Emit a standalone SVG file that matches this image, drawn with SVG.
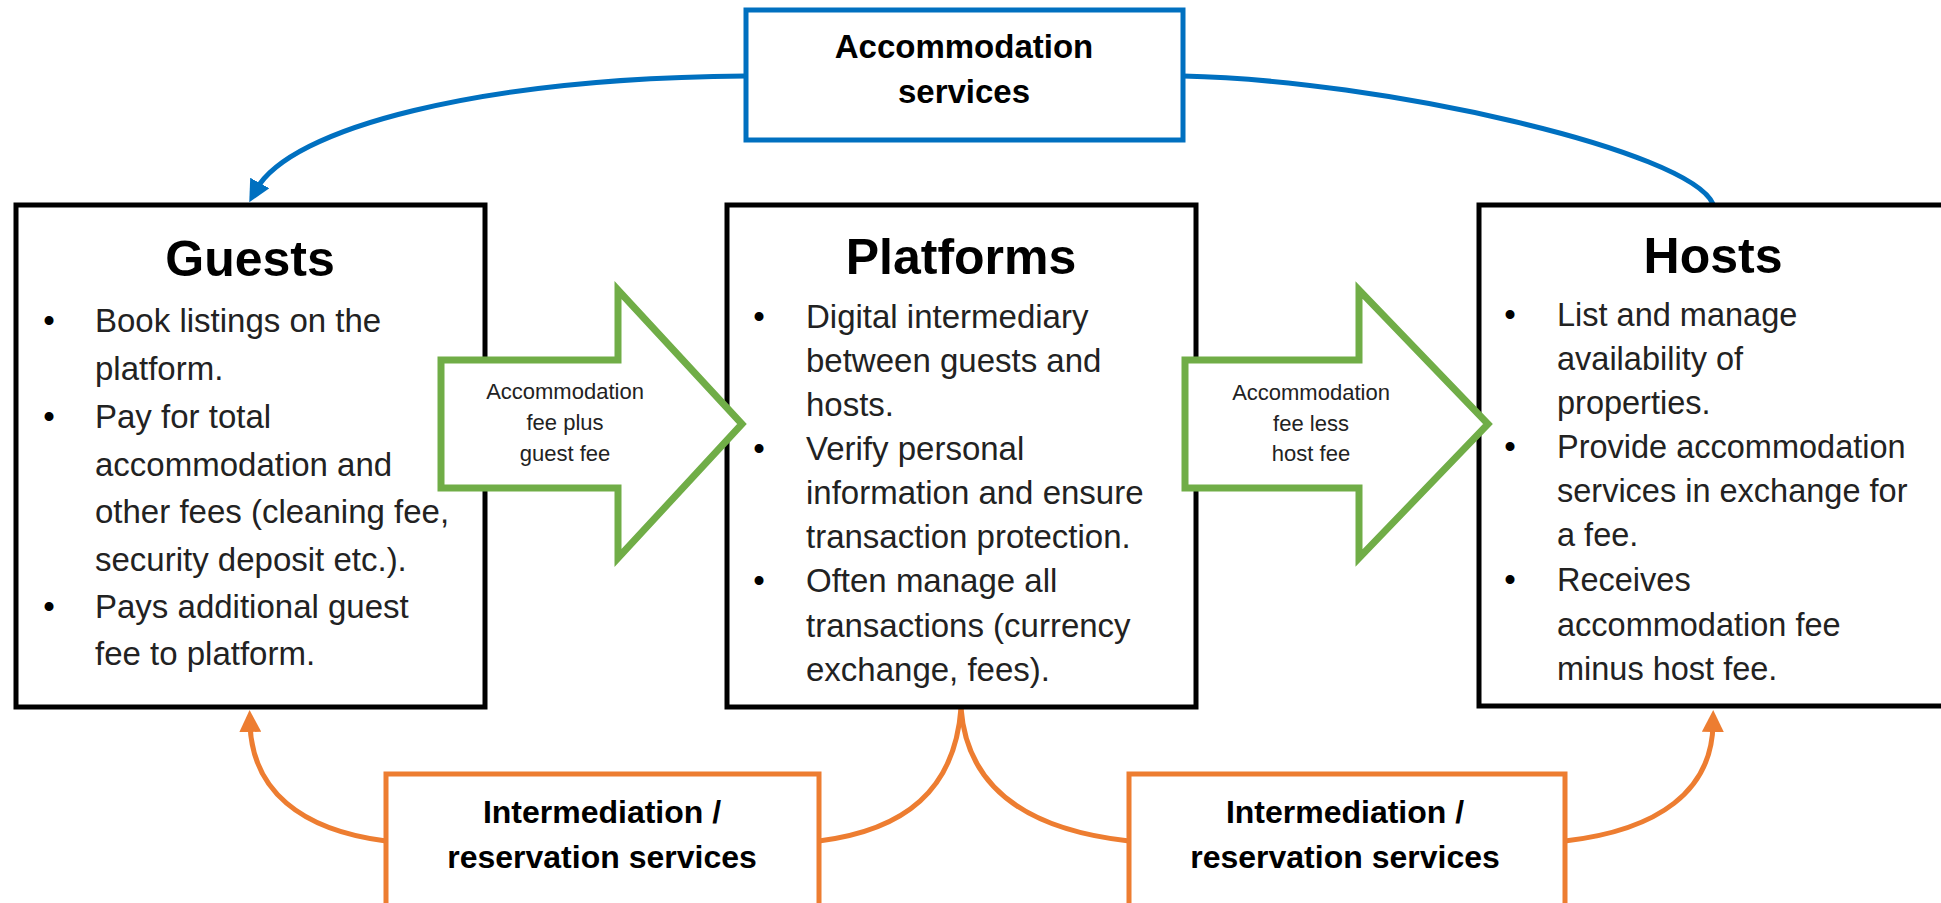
<svg xmlns="http://www.w3.org/2000/svg" width="1941" height="903" viewBox="0 0 1941 903">
<style>
.box{fill:#fff;stroke:#000;stroke-width:5}
.bbox{fill:#fff;stroke:#0070C0;stroke-width:5}
.obox{fill:#fff;stroke:#ED7D31;stroke-width:5}
.garrow{fill:#fff;stroke:#70AD47;stroke-width:7;stroke-linejoin:miter}
.title{font-family:"Liberation Sans",Arial,sans-serif;font-weight:bold;font-size:50px;fill:#000;text-anchor:middle}
.body{font-family:"Liberation Sans",Arial,sans-serif;font-size:33px;fill:#222}
.bul{font-family:"Liberation Sans",Arial,sans-serif;font-size:33px;fill:#000;text-anchor:middle}
.lbl{font-family:"Liberation Sans",Arial,sans-serif;font-weight:bold;font-size:32px;fill:#000;text-anchor:middle}
.small{font-family:"Liberation Sans",Arial,sans-serif;font-size:22px;fill:#222;text-anchor:middle}
.blue{fill:none;stroke:#0070C0;stroke-width:5}
.orange{fill:none;stroke:#ED7D31;stroke-width:5}
</style>
<defs>
<marker id="ab" viewBox="0 0 22 22" markerWidth="22" markerHeight="22" refX="8" refY="11" orient="auto" markerUnits="userSpaceOnUse">
<path d="M0,0 L22,11 L0,22 z" fill="#0070C0"/>
</marker>
<marker id="ao" viewBox="0 0 22 22" markerWidth="22" markerHeight="22" refX="8" refY="11" orient="auto" markerUnits="userSpaceOnUse">
<path d="M0,0 L22,11 L0,22 z" fill="#ED7D31"/>
</marker>
</defs>

<g id="connectors">
<path class="blue" d="M746,76 C480,78 290,128 256,190" marker-end="url(#ab)"/>
<path class="blue" d="M1183,76 C1380,80 1690,150 1713,204"/>
<path class="orange" d="M386,841 C300,830 252,790 250,724" marker-end="url(#ao)"/>
<path class="orange" d="M819,841 C905,830 955,790 961,708"/>
<path class="orange" d="M961,708 C967,790 1030,830 1129,841"/>
<path class="orange" d="M1565,841 C1660,830 1712,790 1713,724" marker-end="url(#ao)"/>
</g>

<g id="accommodation-services">
<rect class="bbox" x="746" y="10" width="437" height="130"/>
<text class="lbl" x="964" y="58" style="font-size:33px">Accommodation</text>
<text class="lbl" x="964" y="103" style="font-size:33px">services</text>
</g>

<g id="guests">
<rect class="box" x="16" y="205" width="469" height="502"/>
<text class="title" x="250" y="276">Guests</text>
<text class="bul" x="49" y="332">•</text>
<text class="body" x="95" y="332">Book listings on the</text>
<text class="body" x="95" y="380">platform.</text>
<text class="bul" x="49" y="428">•</text>
<text class="body" x="95" y="428">Pay for total</text>
<text class="body" x="95" y="476">accommodation and</text>
<text class="body" x="95" y="523">other fees (cleaning fee,</text>
<text class="body" x="95" y="571">security deposit etc.).</text>
<text class="bul" x="49" y="618">•</text>
<text class="body" x="95" y="618">Pays additional guest</text>
<text class="body" x="95" y="665">fee to platform.</text>
</g>

<g id="platforms">
<rect class="box" x="727" y="205" width="469" height="502"/>
<text class="title" x="961" y="274">Platforms</text>
<text class="bul" x="759" y="328">•</text>
<text class="body" x="806" y="328">Digital intermediary</text>
<text class="body" x="806" y="372">between guests and</text>
<text class="body" x="806" y="416">hosts.</text>
<text class="bul" x="759" y="460">•</text>
<text class="body" x="806" y="460">Verify personal</text>
<text class="body" x="806" y="504">information and ensure</text>
<text class="body" x="806" y="548">transaction protection.</text>
<text class="bul" x="759" y="592">•</text>
<text class="body" x="806" y="592">Often manage all</text>
<text class="body" x="806" y="637">transactions (currency</text>
<text class="body" x="806" y="681">exchange, fees).</text>
</g>

<g id="hosts">
<rect class="box" x="1479" y="205" width="470" height="501"/>
<text class="title" x="1713" y="273">Hosts</text>
<text class="bul" x="1510" y="326">•</text>
<text class="body" x="1557" y="326" style="font-size:32.5px">List and manage</text>
<text class="body" x="1557" y="370" style="font-size:32.5px">availability of</text>
<text class="body" x="1557" y="414" style="font-size:32.5px">properties.</text>
<text class="bul" x="1510" y="458">•</text>
<text class="body" x="1557" y="458" style="font-size:32.5px">Provide accommodation</text>
<text class="body" x="1557" y="502" style="font-size:32.5px">services in exchange for</text>
<text class="body" x="1557" y="546" style="font-size:32.5px">a fee.</text>
<text class="bul" x="1510" y="591">•</text>
<text class="body" x="1557" y="591" style="font-size:32.5px">Receives</text>
<text class="body" x="1557" y="636" style="font-size:32.5px">accommodation fee</text>
<text class="body" x="1557" y="680" style="font-size:32.5px">minus host fee.</text>
</g>

<g id="arrow-guest-fee">
<polygon class="garrow" points="441,360 618,360 618,290 742,424 618,558 618,488 441,488"/>
<text class="small" x="565" y="399">Accommodation</text>
<text class="small" x="565" y="430">fee plus</text>
<text class="small" x="565" y="461">guest fee</text>
</g>

<g id="arrow-host-fee">
<polygon class="garrow" points="1185,360 1359,360 1359,290 1488,424 1359,558 1359,488 1185,488"/>
<text class="small" x="1311" y="400">Accommodation</text>
<text class="small" x="1311" y="431">fee less</text>
<text class="small" x="1311" y="461">host fee</text>
</g>

<g id="intermediation-left">
<rect class="obox" x="386" y="774" width="433" height="140"/>
<text class="lbl" x="602" y="823">Intermediation /</text>
<text class="lbl" x="602" y="868">reservation services</text>
</g>

<g id="intermediation-right">
<rect class="obox" x="1129" y="774" width="436" height="140"/>
<text class="lbl" x="1345" y="823">Intermediation /</text>
<text class="lbl" x="1345" y="868">reservation services</text>
</g>
</svg>
